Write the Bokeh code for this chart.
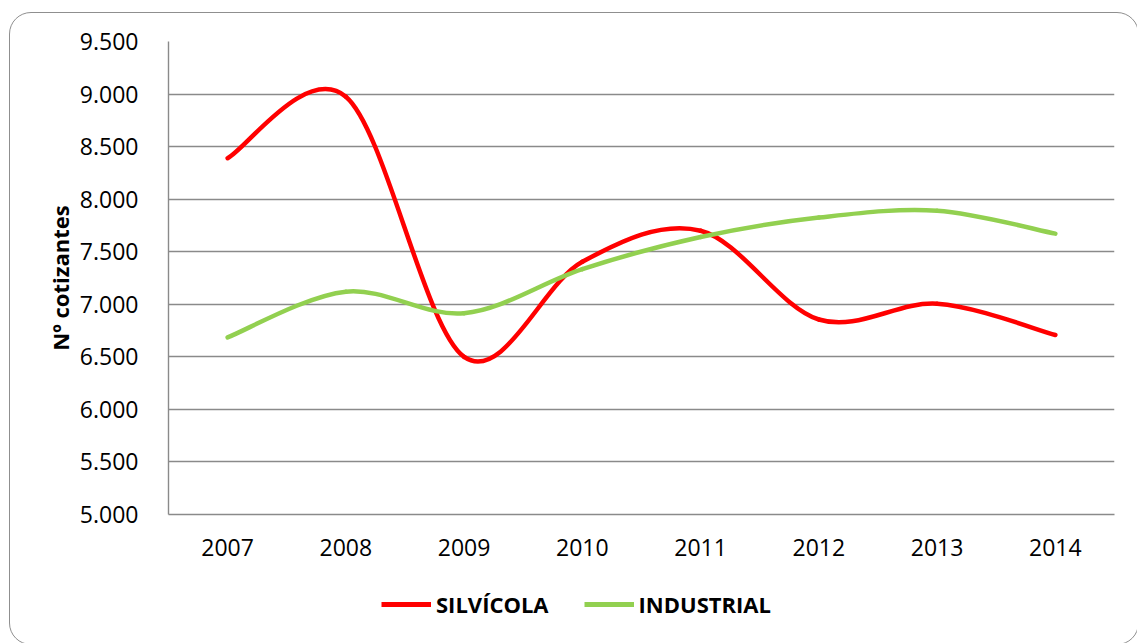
from bokeh.plotting import figure
from bokeh.layouts import column
from bokeh.models import FixedTicker, Legend, LegendItem, ColumnDataSource
from bokeh.embed import file_html
from bokeh.resources import INLINE

years = ["2007", "2008", "2009", "2010", "2011", "2012", "2013", "2014"]
silvicola = [8390, 8975, 6500, 7405, 7700, 6855, 7005, 6708]
industrial = [6685, 7120, 6915, 7335, 7640, 7825, 7890, 7672]
y_ticks = [5000, 5500, 6000, 6500, 7000, 7500, 8000, 8500, 9000, 9500]
y_tick_labels = ["5.000", "5.500", "6.000", "6.500", "7.000", "7.500", "8.000", "8.500", "9.000", "9.500"]
series_names = ["SILVÍCOLA", "INDUSTRIAL"]
series_colors = ["#FF0000", "#92D050"]

FONT = "Open Sans"
W = 1128


def bezier_source(vals):
    n = len(vals)
    xs = list(range(n))
    pts = list(zip(xs, vals))
    d = dict(x0=[], y0=[], x1=[], y1=[], cx0=[], cy0=[], cx1=[], cy1=[])
    for i in range(n - 1):
        p0 = pts[i - 1] if i > 0 else pts[i]
        p1 = pts[i]
        p2 = pts[i + 1]
        p3 = pts[i + 2] if i + 2 < n else pts[i + 1]
        d["x0"].append(p1[0]); d["y0"].append(p1[1])
        d["x1"].append(p2[0]); d["y1"].append(p2[1])
        d["cx0"].append(p1[0] + (p2[0] - p0[0]) / 6.0)
        d["cy0"].append(p1[1] + (p2[1] - p0[1]) / 6.0)
        d["cx1"].append(p2[0] - (p3[0] - p1[0]) / 6.0)
        d["cy1"].append(p2[1] - (p3[1] - p1[1]) / 6.0)
    return ColumnDataSource(d)


p = figure(width=W, height=555, output_backend="svg", toolbar_location=None,
           x_range=(-0.5, len(years) - 0.5), y_range=(y_ticks[0], y_ticks[-1]),
           min_border_left=158, min_border_top=28, min_border_right=24, min_border_bottom=54)
p.outline_line_color = None
p.background_fill_color = None
p.border_fill_color = None

grid_color = "#8a8a8a"
p.xgrid.grid_line_color = None
p.ygrid.grid_line_color = grid_color
p.ygrid.grid_line_width = 1.4

p.xaxis.ticker = FixedTicker(ticks=list(range(len(years))))
p.xaxis.major_label_overrides = {i: y for i, y in enumerate(years)}
p.yaxis.ticker = FixedTicker(ticks=y_ticks)
p.yaxis.major_label_overrides = {t: l for t, l in zip(y_ticks, y_tick_labels)}

for ax in (p.xaxis[0], p.yaxis[0]):
    ax.axis_line_color = grid_color
    ax.axis_line_width = 1.4
    ax.major_tick_line_color = None
    ax.minor_tick_line_color = None
    ax.major_label_text_font = FONT
    ax.major_label_text_font_size = "23px"
    ax.major_label_text_color = "black"

p.xaxis.major_label_standoff = 18
p.yaxis.major_label_standoff = 24
p.yaxis.axis_label = "Nº cotizantes"
p.yaxis.axis_label_text_font = FONT
p.yaxis.axis_label_text_font_size = "22px"
p.yaxis.axis_label_text_font_style = "bold"
p.yaxis.axis_label_text_color = "black"
p.yaxis.axis_label_standoff = 2

for vals, color in zip([silvicola, industrial], series_colors):
    p.bezier(x0="x0", y0="y0", x1="x1", y1="y1", cx0="cx0", cy0="cy0", cx1="cx1", cy1="cy1",
             source=bezier_source(vals), line_color=color, line_width=4.5, line_cap="round")

# legend strip below the chart (its lines lie outside its visible range)
lg = figure(width=W, height=76, output_backend="svg", toolbar_location=None,
            x_range=(-1000, -999), y_range=(-1000, -999), x_axis_type=None, y_axis_type=None,
            min_border=0)
lg.outline_line_color = None
lg.grid.visible = False
lg.background_fill_color = None
lg.border_fill_color = None
items = []
for name, vals, color in zip(series_names, [silvicola, industrial], series_colors):
    r = lg.line(x=list(range(len(vals))), y=vals, line_color=color, line_width=5)
    items.append(LegendItem(label=name, renderers=[r]))
legend = Legend(items=items, orientation="horizontal", location=(213, 25),
                glyph_width=50, glyph_height=20, label_standoff=5, spacing=35,
                label_text_font=FONT, label_text_font_size="22px", label_text_font_style="bold",
                label_text_color="black", border_line_color=None, background_fill_alpha=0,
                padding=0, margin=0)
lg.add_layout(legend, "center")

layout = column(p, lg, spacing=0)
layout.styles = {"border": "1.5px solid #8f8f8f", "border-radius": "22px",
                 "margin-left": "9px", "margin-top": "12px", "background": "white"}

open("out.html", "w").write(file_html(layout, INLINE))
